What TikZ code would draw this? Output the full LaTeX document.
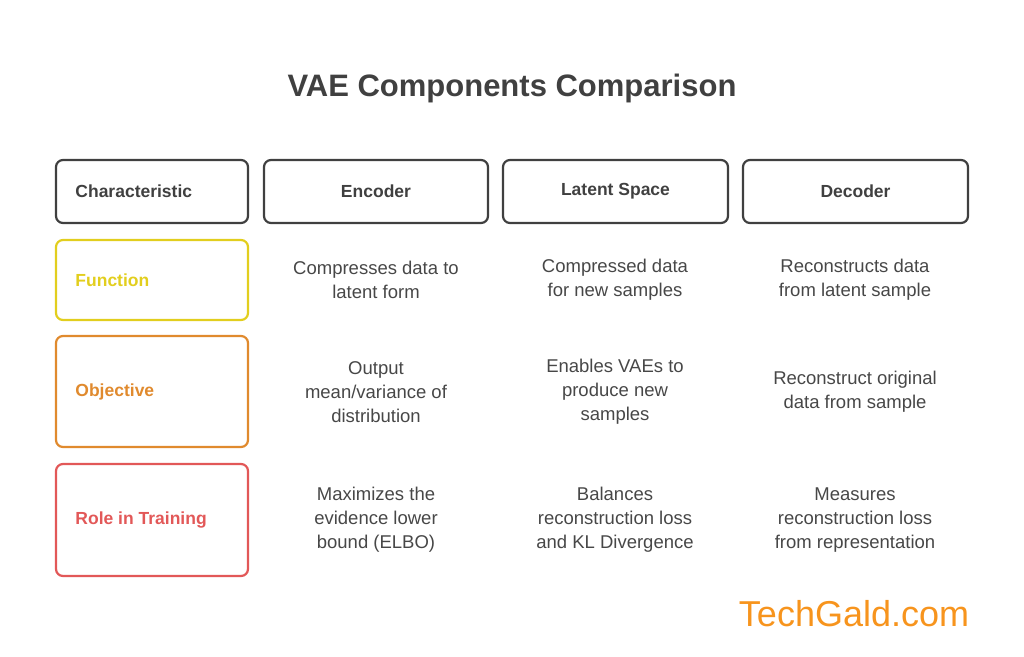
\documentclass[tikz,border=0pt]{standalone}
\usepackage{fontspec}
\setmainfont{Liberation Sans}
\begin{document}
\begin{tikzpicture}[x=1pt,y=-1pt,
  hdr/.style={draw=black!75,line width=2.2pt,rounded corners=7pt,font=\fontsize{17.5}{20}\selectfont\bfseries,text=black!75},
  rowb/.style={line width=2.2pt,rounded corners=7pt,font=\fontsize{17.5}{20}\selectfont\bfseries},
  cell/.style={align=center,font=\fontsize{18.5}{24}\selectfont,text=black!72}]
\useasboundingbox (0,0) rectangle (1024,656);
\node[font=\fontsize{31}{36}\selectfont\bfseries,text=black!75] (title) at (512,88) {VAE Components Comparison};
\definecolor{cy}{HTML}{E2CE1E}\definecolor{co}{HTML}{E08A2E}\definecolor{cr}{HTML}{E25858}
\draw[hdr] (56,160) rectangle (248,223) node[pos=.5,anchor=west,xshift=-81pt] (h0) {Characteristic};
\draw[hdr] (264,160) rectangle (488,223) node[pos=.5] (h1) {Encoder};
\draw[hdr] (503,160) rectangle (728,223) node[pos=.5] (h2) {Latent Space};
\draw[hdr] (743,160) rectangle (968,223) node[pos=.5] (h3) {Decoder};
\draw[rowb,draw=cy] (56,240) rectangle (248,320) node[pos=.5,anchor=west,xshift=-81pt,text=cy] (r1) {Function};
\draw[rowb,draw=co] (56,336) rectangle (248,447) node[pos=.5,anchor=west,xshift=-81pt,text=co] (r2) {Objective};
\draw[rowb,draw=cr] (56,464) rectangle (248,576) node[pos=.5,anchor=west,xshift=-81pt,text=cr] (r3) {Role in Training};
\node[cell] (c11) at (376,280) {Compresses data to\\latent form};
\node[cell] (c12) at (615,280) {Compressed data\\for new samples};
\node[cell] (c13) at (855,280) {Reconstructs data\\from latent sample};
\node[cell] (c21) at (376,392) {Output\\mean/variance of\\distribution};
\node[cell] (c22) at (615,392) {Enables VAEs to\\produce new\\samples};
\node[cell] (c23) at (855,392) {Reconstruct original\\data from sample};
\node[cell] (c31) at (376,520) {Maximizes the\\evidence lower\\bound (ELBO)};
\node[cell] (c32) at (615,520) {Balances\\reconstruction loss\\and KL Divergence};
\node[cell] (c33) at (855,520) {Measures\\reconstruction loss\\from representation};
\node[font=\fontsize{36}{40}\selectfont,text={rgb,255:red,247;green,148;blue,29}] (logo) at (854,614) {TechGald.com};
\end{tikzpicture}
\end{document}
